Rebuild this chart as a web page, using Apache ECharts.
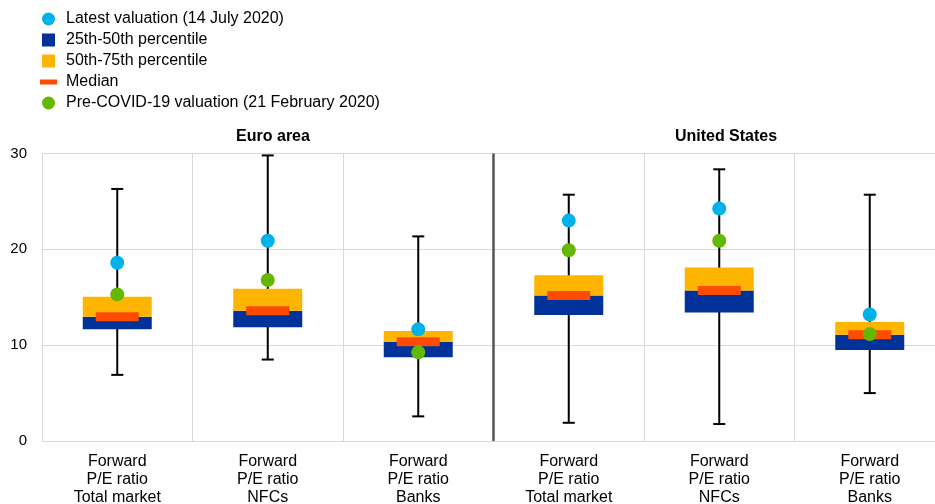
<!DOCTYPE html>
<html>
<head>
<meta charset="utf-8">
<script src="https://cdn.jsdelivr.net/npm/echarts@6/dist/echarts.min.js"></script>
<style>html,body{margin:0;padding:0;background:#fff}#c{width:935px;height:504px}</style>
</head>
<body>
<div id="c"></div>
<script>
const categories = ['Forward\nP/E ratio\nTotal market','Forward\nP/E ratio\nNFCs','Forward\nP/E ratio\nBanks','Forward\nP/E ratio\nTotal market ','Forward\nP/E ratio\nNFCs ','Forward\nP/E ratio\nBanks '];
const whiskerLow  = [6.9, 8.5, 2.57, 1.9, 1.77, 5.0];
const whiskerHigh = [26.3, 29.8, 21.35, 25.7, 28.35, 25.7];
const p25    = [11.65, 11.86, 8.73, 13.15, 13.4, 9.5];
const median = [12.96, 13.58, 10.35, 15.18, 15.7, 11.08];
const p75    = [15.06, 15.9, 11.48, 17.3, 18.1, 12.42];
const latest = [18.6, 20.9, 11.65, 23.0, 24.25, 13.2];
const preCovid = [15.3, 16.8, 9.25, 19.9, 20.9, 11.17];
const yTicks = [0, 10, 20, 30];
const regionTitles = ['Euro area', 'United States'];

const names = {
  latest: 'Latest valuation (14 July 2020)',
  low: '25th-50th percentile',
  high: '50th-75th percentile',
  med: 'Median',
  pre: 'Pre-COVID-19 valuation (21 February 2020)'
};
const C = {cyan:'#00B1EA', blue:'#003299', yellow:'#FFB400', orange:'#FF4B00', green:'#65B800'};
const FONT = 'Arial, "Liberation Sans", sans-serif';

const chart = echarts.init(document.getElementById('c'), null, {renderer:'canvas'});
const SQUARE = 'path://M0,0 L13,0 L13,13 L0,13 Z';
const option = {
  animation: false,
  backgroundColor: '#fff',
  title: [
    {text: regionTitles[0], left: 268, top: 124, textAlign: 'center',
     textStyle:{fontFamily:FONT, fontSize:16, fontWeight:'bold', color:'#000'}},
    {text: regionTitles[1], left: 721, top: 124, textAlign: 'center',
     textStyle:{fontFamily:FONT, fontSize:16, fontWeight:'bold', color:'#000'}}
  ],
  legend: {
    orient: 'vertical', left: 35, top: 6, itemWidth: 17, itemHeight: 13, itemGap: 5,
    symbolKeepAspect: true,
    textStyle: {fontFamily: FONT, fontSize: 16, color: '#000', padding:[0,0,0,4]},
    data: [
      {name: names.latest, icon: 'circle'},
      {name: names.low, icon: SQUARE},
      {name: names.high, icon: SQUARE},
      {name: names.med, icon: 'path://M0,0 L17,0 L17,5 L0,5 Z'},
      {name: names.pre, icon: 'circle'}
    ]
  },
  grid: {left: 42, width: 903, top: 153.5, bottom: 63, containLabel: false, outerBoundsMode: 'none'},
  xAxis: [{
    type: 'category', data: categories, boundaryGap: true,
    axisLine: {show: false}, axisTick: {show: false},
    splitLine: {show: true, lineStyle: {color: '#d9d9d9', width: 1}},
    axisLabel: {interval: 0, fontFamily: FONT, fontSize: 16, color: '#000', lineHeight: 18, margin: 12,
      formatter: v => v.trim()}
  }, {
    type: 'value', min: 0, max: 6, show: false
  }],
  yAxis: {
    type: 'value', min: yTicks[0], max: yTicks[yTicks.length-1], interval: 10,
    axisLine: {show: false}, axisTick: {show: false},
    splitLine: {lineStyle: {color: '#d9d9d9', width: 1}},
    axisLabel: {fontFamily: FONT, fontSize: 15, color: '#000', margin: 15}
  },
  series: [
    {
      type: 'custom', name: 'whiskers', xAxisIndex: 0, z: 1,
      data: categories.map((c, i) => [i, whiskerLow[i], whiskerHigh[i]]),
      encode: {x: 0, y: [1, 2]},
      renderItem: function (params, api) {
        const i = api.value(0);
        const lo = api.coord([i, api.value(1)]);
        const hi = api.coord([i, api.value(2)]);
        const cw = 6;
        const st = {stroke: '#000', lineWidth: 2};
        return {type: 'group', children: [
          {type: 'line', shape: {x1: lo[0], y1: lo[1], x2: hi[0], y2: hi[1]}, style: st},
          {type: 'line', shape: {x1: lo[0]-cw, y1: lo[1], x2: lo[0]+cw, y2: lo[1]}, style: st},
          {type: 'line', shape: {x1: hi[0]-cw, y1: hi[1], x2: hi[0]+cw, y2: hi[1]}, style: st}
        ]};
      },
      silent: true
    },
    {
      type: 'bar', name: 'base', stack: 'box', barWidth: 69, z: 2,
      itemStyle: {color: 'rgba(0,0,0,0)'}, data: p25, silent: true
    },
    {
      type: 'bar', name: names.low, stack: 'box', barWidth: 69, z: 2,
      itemStyle: {color: C.blue}, data: median.map((m, i) => +(m - p25[i]).toFixed(3))
    },
    {
      type: 'bar', name: names.high, stack: 'box', barWidth: 69, z: 2,
      itemStyle: {color: C.yellow}, data: p75.map((q, i) => +(q - median[i]).toFixed(3))
    },
    {
      type: 'scatter', name: names.med, symbol: 'rect', symbolSize: [43, 9], z: 3,
      itemStyle: {color: C.orange, opacity: 1}, data: median
    },
    {
      type: 'scatter', name: names.latest, symbol: 'circle', symbolSize: 14, z: 4,
      itemStyle: {color: C.cyan, opacity: 1}, data: latest
    },
    {
      type: 'scatter', name: names.pre, symbol: 'circle', symbolSize: 14, z: 4,
      itemStyle: {color: C.green, opacity: 1}, data: preCovid
    },
    {
      type: 'line', name: 'separator', xAxisIndex: 1, data: [], z: 5,
      markLine: {silent: true, symbol: 'none', label: {show: false},
        lineStyle: {color: '#555', width: 2.5, type: 'solid'},
        data: [{xAxis: 3}]}
    }
  ]
};
chart.setOption(option);
</script>
</body>
</html>
